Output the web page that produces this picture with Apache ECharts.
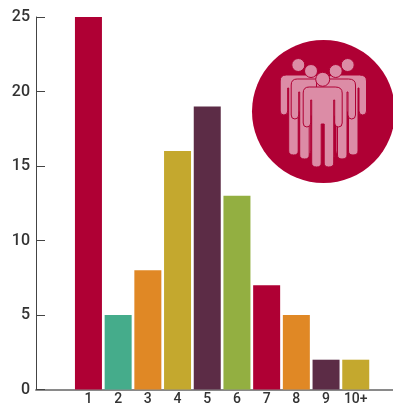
<!DOCTYPE html>
<html><head><meta charset="utf-8">
<style>html,body{margin:0;padding:0;background:#fff}#c{width:393px;height:404px}</style>
<script src="https://cdn.jsdelivr.net/npm/echarts@6/dist/echarts.min.js"></script>
</head><body><div id="c"></div>
<script>
const categories = ['1','2','3','4','5','6','7','8','9','10+'];
const values = [25,5,8,16,19,13,7,5,2,2];
const palette = ['#AF0034','#45AC8B','#E08825','#C4A82E','#5C2C46','#93AF41','#AF0034','#E08825','#5C2C46','#C4A82E'];
const yTicks = [0,5,10,15,20,25];

const font = 'Roboto';
const personPath = 'M6 0 H32 Q39 0 39 6 V36 Q39 40 35.2 40 Q31.5 40 31.5 36 V13 H30.5 V76 Q30.5 80 25.5 80 Q21 80 21 76 V37 H18 V76 Q18 80 13.5 80 Q8.5 80 8.5 76 V13 H7.5 V36 Q7.5 40 3.7 40 Q0 40 0 36 V6 Q0 0 6 0 Z';
const pink = '#DC8CA6', crimson = '#AF0034';
function person(cx, top, headY, headX, r) {
  return [
    {type:'path', shape:{pathData:personPath, x:cx-19.5, y:top, width:39, height:80, layout:'cover'},
     style:{fill:pink, stroke:crimson, lineWidth:1}},
    {type:'circle', shape:{cx:headX, cy:headY, r:r}, style:{fill:pink, stroke:crimson, lineWidth:1}}
  ];
}
const icon = [
  {type:'circle', shape:{cx:323.5, cy:111.5, r:71.5}, style:{fill:crimson}},
  ...person(299.7,75,65,298.3,6.5), ...person(347,75,65,347.7,6.5),
  ...person(310.7,79,71,311,6.5), ...person(336,79,71,335.7,6.5),
  ...person(322.7,87,79.3,322.7,7)
];

const chart = echarts.init(document.getElementById('c'), null, {renderer:'canvas'});
chart.setOption({
  animation:false,
  backgroundColor:'#fff',
  grid:[
    {left:36, right:0, top:17, bottom:14.5, outerBoundsMode:'none'},
    {left:73.6, width:297, top:17, bottom:14.5, outerBoundsMode:'none'}
  ],
  xAxis:[
    {gridIndex:0, type:'value', min:0, max:1, axisLine:{show:true, lineStyle:{color:'#8a8a8a', width:2}},
     axisTick:{show:false}, axisLabel:{show:false}, splitLine:{show:false}},
    {gridIndex:1, type:'category', data:categories, axisLine:{show:false}, axisTick:{show:false},
     axisLabel:{color:'#333', fontFamily:font, fontWeight:500, fontSize:14, margin:3, interval:0}}
  ],
  yAxis:[
    {gridIndex:0, type:'value', min:yTicks[0], max:yTicks[yTicks.length-1], interval:5,
     axisLine:{show:true, lineStyle:{color:'#444', width:1}},
     axisTick:{show:true, inside:true, length:9, lineStyle:{color:'#444', width:1}},
     axisLabel:{color:'#333', fontFamily:font, fontWeight:500, fontSize:16, margin:6},
     splitLine:{show:false}},
    {gridIndex:1, type:'value', min:0, max:25, show:false, splitLine:{show:false}}
  ],
  series:[{
    type:'bar', xAxisIndex:1, yAxisIndex:1, barWidth:27, z:2,
    data:values.map((v,i)=>({value:v, itemStyle:{color:palette[i]}}))
  },{
    type:'custom', xAxisIndex:0, yAxisIndex:0, coordinateSystem:'cartesian2d', clip:false, silent:true, z:5,
    data:[[0,0]],
    renderItem:function(){ return {type:'group', children:icon}; }
  }]
});
</script></body></html>
